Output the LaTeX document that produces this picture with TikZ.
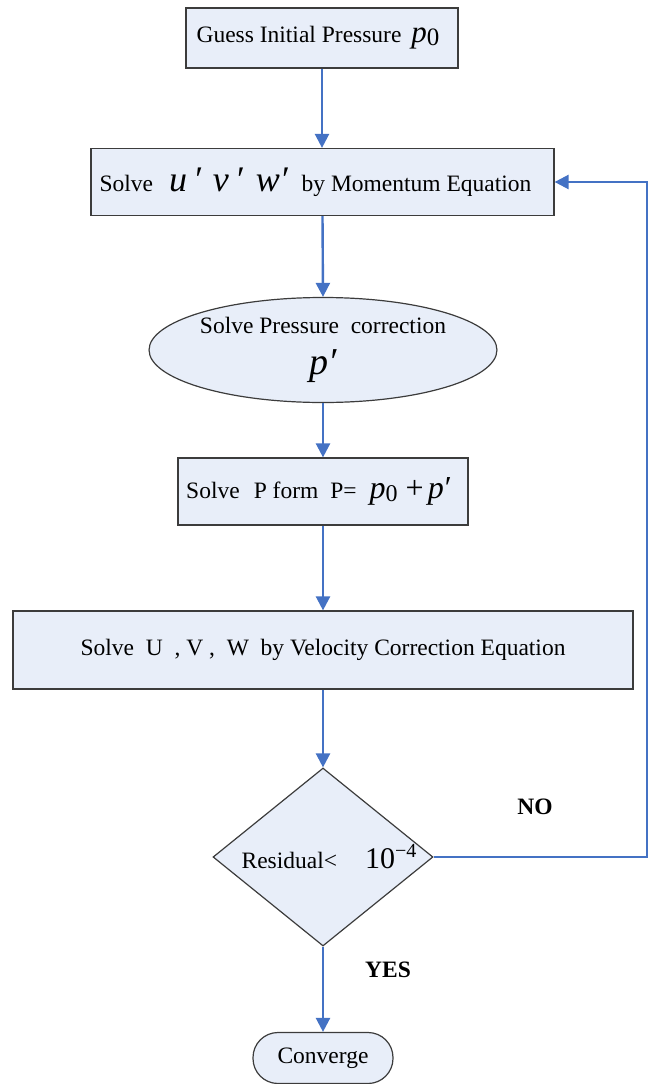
\documentclass[tikz,border=0pt]{standalone}
\usepackage{fontspec}
\setmainfont{Liberation Serif}
\usetikzlibrary{shapes.geometric,arrows.meta}
\definecolor{boxfill}{RGB}{232,238,249}
\definecolor{flow}{RGB}{68,114,196}
\definecolor{edgegray}{RGB}{60,60,60}
\newcommand{\mvar}[2]{{\fontsize{#1}{#1}\selectfont\itshape #2}}
\newcommand{\mlow}[2]{\raisebox{-3pt}{\fontsize{#1}{#1}\selectfont #2}}
\newcommand{\mhigh}[2]{\raisebox{11pt}{\fontsize{#1}{#1}\selectfont #2}}
\tikzset{
  base/.style={draw=edgegray, line width=1.2pt, fill=boxfill, inner sep=0pt,
    font=\fontsize{23.5}{27}\selectfont},
  procbox/.style={base, rectangle},
  ovalbox/.style={base, ellipse},
  decbox/.style={base, diamond},
  termbox/.style={base, rectangle, rounded corners=25pt},
  flowline/.style={draw=flow, line width=2.4pt, -{Triangle[length=14pt,width=14pt]}},
  answer/.style={font=\bfseries\fontsize{23.5}{27}\selectfont}
}
\begin{document}
\begin{tikzpicture}[x=1pt,y=-1pt]
\useasboundingbox (0,0) rectangle (649,1084);
\node[procbox, minimum width=272pt, minimum height=60pt] (guess) at (322,38)
  {Guess Initial Pressure\hspace{10pt}\mvar{31}{p}\mlow{25}{0}\hspace*{8pt}};
\node[procbox, minimum width=463pt, minimum height=67pt] (mom) at (322.5,182)
  {Solve\hspace{16pt}\mvar{36}{u\,′}\hspace{12pt}\mvar{36}{v\,′}\hspace{13pt}\mvar{36}{w′}\hspace{14pt}by Momentum Equation\hspace*{14pt}};
\node[ovalbox, minimum width=308pt, minimum height=105pt, align=center] (pc) at (323,350)
  {Solve Pressure\ \ correction\\[14pt]\mvar{38}{p′}};
\node[procbox, minimum width=290pt, minimum height=67pt] (pform) at (323,491.5)
  {Solve\hspace{14pt}P form\hspace{12pt}P=\hspace{13pt}\mvar{32}{p}\mlow{24}{0}\hspace{8pt}{\fontsize{32}{32}\selectfont +}\hspace{4pt}\mvar{32}{p\kern-1pt′}\hspace*{10pt}};
\node[procbox, minimum width=620pt, minimum height=78pt] (vel) at (323,650)
  {Solve\ \ U\ \ , V ,\ \ W\ \ by Velocity Correction Equation};
\node[decbox, minimum width=220pt, minimum height=178pt] (res) at (323,857)
  {\makebox[0pt][c]{\hspace*{12pt}Residual<\hspace{28pt}{\fontsize{30}{30}\selectfont 10}\mhigh{20}{−4}}};
\node[termbox, minimum width=140pt, minimum height=51pt] (conv) at (323,1058) {Converge};
\node[answer] (no) at (535,807) {NO};
\node[answer] (yes) at (388,970) {YES};
\coordinate (loop) at (647,857);

\draw[flowline] (guess.south) -- (guess.south |- mom.north);
\draw[flowline] (mom.south) -- (pc.north);
\draw[flowline] (pc.south) -- (pform.north);
\draw[flowline] (pform.south) -- (vel.north);
\draw[flowline] (vel.south) -- (res.north);
\draw[flowline] (res.south) -- (conv.north);
\draw[flowline] (res.east) -- (loop) |- (mom.east);
\end{tikzpicture}
\end{document}
